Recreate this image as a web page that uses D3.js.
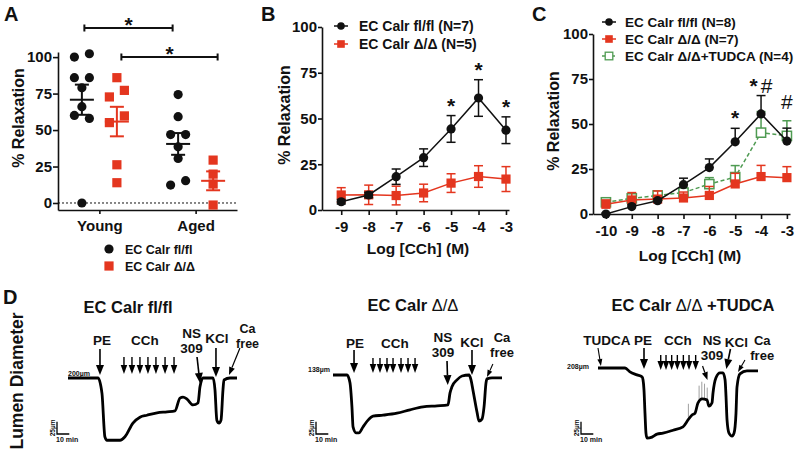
<!DOCTYPE html>
<html>
<head>
<meta charset="utf-8">
<script src="https://cdn.jsdelivr.net/npm/d3@7"></script>
<style>
  body { margin: 0; background: #fff; }
  text { font-family: "Liberation Sans", Arial, Helvetica, sans-serif; font-weight: bold; fill: #111; }
</style>
</head>
<body>
<svg id="fig" width="800" height="453"></svg>
<script>
// ---- panel A : single vessels, % relaxation ----
const groups = ["Young", "Aged"];
const aFlYoung = [102.3, 100, 85.9, 85.9, 79, 66, 60, 58, 0];
const aFlAged = [74.3, 59.2, 46.9, 46.9, 38.5, 30.5, 15.3, 12.3];
const aDdYoung = [85.9, 77.2, 72.7, 59.7, 55.1, 26.2, 13.9];
const aDdAged = [29.4, 19.8, 13, -1.4];
const pctTicks = [0, 25, 50, 75, 100];

// ---- panel B : dose response ----
const bDose = [-9, -8, -7, -6, -5, -4, -3];
const bFlMean = [4.5, 8.2, 18.2, 28.6, 44.3, 61.2, 43.6];
const bFlSem = [1.2, 1.5, 4.2, 4.8, 7.3, 10, 7.3];
const bDdMean = [8.2, 8.3, 7.9, 9.3, 14.7, 18.3, 16.9];
const bDdSem = [4, 5.3, 5.1, 4.8, 5.1, 5.9, 6.8];
const bSig = [-5, -4, -3];

// ---- panel C : dose response with TUDCA ----
const cDose = [-10, -9, -8, -7, -6, -5, -4, -3];
const cFlMean = [0, 4.1, 7.4, 16.3, 25.8, 40.1, 55.6, 40.5];
const cFlSem = [0.5, 1, 1, 3.6, 4.8, 7.5, 10.2, 7.2];
const cDdMean = [5.4, 7.8, 8.3, 8.9, 10.3, 16.7, 20.8, 20.2];
const cDdSem = [2.4, 4.1, 4.5, 3.3, 5, 5.9, 6.2, 6.1];
const cTuMean = [6.5, 8.7, 10.3, 11.9, 16.6, 20.5, 45.2, 43.4];
const cTuSem = [1.2, 2.2, 2.4, 2.2, 3.6, 6.4, 11.7, 8.4];
const cSig = [[-5, "*"], [-4, "*#"], [-3, "#"]];

// ---- panel D : diameter traces, [minutes, µm] ----
const traceFl = [[0,200],[24.4,200],[27.6,169],[30,80],[31.7,73],[42.3,73],[46.3,80],[52.8,108],[58.5,120],
  [64.2,124],[72.4,129],[80.5,131],[87,133],[91,159],[93.5,161],[96.7,157],[101.6,145],[105.7,149],[107.3,182],
  [109.8,200],[117.9,200],[119.5,176],[121,114],[122.8,108],[124.4,114],[126,176],[126.8,196],[131.7,200],[137.4,200]];
const traceDd = [[0,138],[11.4,138],[13.8,122],[15.4,73],[16.3,32],[18.7,20],[21.1,20],[24.4,32],[28.5,46],
  [32.5,54],[40.7,56],[52,60],[62.6,67],[73.2,73],[84.6,75],[93.5,77],[95.1,101],[96.7,114],[100.8,128],
  [104.9,136],[110.6,138],[112.2,128],[113.8,107],[117.1,62],[118.7,44],[121.1,48],[122.8,73],[124.4,122],
  [125.2,130],[129.3,132],[137.4,132]];
const traceTu = [[0,208],[22,208],[26,200],[31.7,194],[35.8,190],[36.6,184],[37.4,163],[38.2,116],[39,75],
  [39.8,65],[43.9,67],[48,73],[52.8,75],[61,81],[69.1,88],[73.2,102],[76.4,112],[78.9,116],[81.3,137],
  [84.6,145],[88.6,143],[90.2,130],[92.7,137],[93.5,157],[95.9,188],[99.2,198],[101.6,198],[103.3,184],
  [104.1,149],[104.9,102],[106.5,75],[109,69],[110.6,75],[112.2,116],[113,169],[115.4,196],[121.1,202],[130.1,202]];
const spikesTu = [[73.5,102,135],[82.2,140,172],[84.4,144,180],[86.6,143,176],[88.8,140,168]];
const cchFl = [45.5, 52, 58.5, 65, 71.5, 78.9, 86.2];
const cchDd = [32.5, 38.2, 43.9, 48.8, 55.3, 61, 66.7];
const cchTu = [51, 55.3, 59.9, 64.5, 69.4, 74, 79.4];

const RED = "#e4361f", GREEN = "#4f9b52", INK = "#111";
const svg = d3.select("#fig");

function styleAxis(g, fs) {
  g.attr("font-family", null).attr("font-size", fs);
  g.select(".domain").attr("stroke", INK).attr("stroke-width", 1.6);
  g.selectAll(".tick line").attr("stroke", INK).attr("stroke-width", 1.6);
  g.selectAll(".tick text").attr("fill", INK);
}
function label(x, y, txt, size, anchor, rot) {
  const t = svg.append("text").attr("x", x).attr("y", y).attr("font-size", size)
    .attr("text-anchor", anchor || "middle").text(txt);
  if (rot) t.attr("transform", `rotate(${rot},${x},${y})`);
  return t;
}
function marker(g, shape, x, y, color, open) {
  if (shape === "circle") {
    g.append("circle").attr("cx", x).attr("cy", y).attr("r", 4.6).attr("fill", color);
  } else {
    g.append("rect").attr("x", x - 4.6).attr("y", y - 4.6).attr("width", 9.2).attr("height", 9.2)
      .attr("fill", open ? "#fff" : color).attr("stroke", open ? color : "none").attr("stroke-width", 1.5);
  }
}

// ================= A =================
label(4, 21, "A", 20, "start");
const yA = d3.scaleLinear().domain([-4.8, 103.5]).range([210, 52]);
const xA = d3.scalePoint().domain(groups).range([58, 237]).padding(0.43);
svg.append("g").attr("transform", "translate(58,0)")
  .call(d3.axisLeft(yA).tickValues(pctTicks).tickSize(5).tickSizeOuter(0).tickPadding(1))
  .call(g => styleAxis(g, 15));
svg.append("g").attr("transform", "translate(0,210)")
  .call(d3.axisBottom(xA).tickSize(4).tickSizeOuter(0).tickPadding(6))
  .call(g => styleAxis(g, 15));
svg.append("line").attr("x1", 58).attr("x2", 237).attr("y1", yA(0)).attr("y2", yA(0))
  .attr("stroke", INK).attr("stroke-width", 1).attr("stroke-dasharray", "2,2");
label(18, 118, "% Relaxation", 16, "middle", -90).attr("dy", "0.35em");

function swarm(vals) {
  // group neighbours that would overlap and spread them sideways
  const s = vals.map((v, i) => ({ v, i })).sort((a, b) => b.v - a.v);
  const out = [];
  let cl = [];
  const flush = () => {
    const offs = cl.length === 1 ? [0] : cl.length === 2 ? [7.5, -7.5] : [0, -7.5, 7.5];
    cl.forEach((p, k) => out.push({ v: p.v, dx: offs[k % offs.length] }));
    cl = [];
  };
  s.forEach(p => {
    if (cl.length && Math.abs(yA(p.v) - yA(cl[cl.length - 1].v)) >= 9.5) flush();
    cl.push(p);
  });
  flush();
  return out;
}
const aSets = [
  { g: "Young", vals: aFlYoung, off: -17.5, c: INK, shape: "circle" },
  { g: "Young", vals: aDdYoung, off: 17.5, c: RED, shape: "square" },
  { g: "Aged", vals: aFlAged, off: -17.5, c: INK, shape: "circle" },
  { g: "Aged", vals: aDdAged, off: 17.5, c: RED, shape: "square" }
];
const gA = svg.append("g");
aSets.forEach(s => {
  const cx = xA(s.g) + s.off;
  swarm(s.vals).forEach(p => marker(gA, s.shape, cx + p.dx, yA(p.v), s.c));
  const m = d3.mean(s.vals), se = d3.deviation(s.vals) / Math.sqrt(s.vals.length);
  gA.append("line").attr("x1", cx - 12).attr("x2", cx + 12).attr("y1", yA(m)).attr("y2", yA(m)).attr("stroke", s.c).attr("stroke-width", 2);
  gA.append("line").attr("x1", cx).attr("x2", cx).attr("y1", yA(m - se)).attr("y2", yA(m + se)).attr("stroke", s.c).attr("stroke-width", 2);
  [m - se, m + se].forEach(v => gA.append("line").attr("x1", cx - 7).attr("x2", cx + 7)
    .attr("y1", yA(v)).attr("y2", yA(v)).attr("stroke", s.c).attr("stroke-width", 2));
});
// significance brackets
function bracket(x1, x2, y) {
  svg.append("path").attr("d", `M${x1},${y - 3.5}V${y + 3.5}M${x1},${y}H${x2}M${x2},${y - 3.5}V${y + 3.5}`)
    .attr("stroke", INK).attr("stroke-width", 2).attr("fill", "none");
  label((x1 + x2) / 2, y - 7 + 11, "*", 21);
}
bracket(xA("Young") - 15, xA("Aged") - 23, 28);
bracket(xA("Young") + 22, xA("Aged") + 22, 57);
// legend A
marker(svg, "circle", 109, 249, INK);
label(125, 253.5, "EC Calr fl/fl", 12.5, "start");
marker(svg, "square", 109, 266, RED);
label(125, 270.5, "EC Calr Δ/Δ", 12.5, "start");

// ============== dose response helper ==============
function series(g, x, y, dose, mean, sem, color, shape, opts) {
  opts = opts || {};
  const gs = g.append("g");
  dose.forEach((d, i) => {
    const top = y(mean[i] + sem[i]), bot = opts.upperOnly ? y(mean[i]) : y(mean[i] - sem[i]);
    gs.append("line").attr("x1", x(d)).attr("x2", x(d)).attr("y1", top).attr("y2", bot).attr("stroke", color).attr("stroke-width", 1.5);
    gs.append("line").attr("x1", x(d) - 4.5).attr("x2", x(d) + 4.5).attr("y1", top).attr("y2", top).attr("stroke", color).attr("stroke-width", 1.5);
    if (!opts.upperOnly) gs.append("line").attr("x1", x(d) - 4.5).attr("x2", x(d) + 4.5).attr("y1", bot).attr("y2", bot).attr("stroke", color).attr("stroke-width", 1.5);
  });
  gs.append("path").datum(dose.map((d, i) => [d, mean[i]]))
    .attr("d", d3.line().x(p => x(p[0])).y(p => y(p[1])))
    .attr("fill", "none").attr("stroke", color).attr("stroke-width", 1.5)
    .attr("stroke-dasharray", opts.dash || null);
  dose.forEach((d, i) => marker(gs, shape, x(d), y(mean[i]), color, opts.open));
}
function legendRow(x, y, color, shape, txt, opts) {
  opts = opts || {};
  svg.append("line").attr("x1", x - 7).attr("x2", x + 7).attr("y1", y).attr("y2", y).attr("stroke", color)
    .attr("stroke-width", 1.5).attr("stroke-dasharray", opts.dash || null);
  const g = svg.append("g");
  if (shape === "circle") g.append("circle").attr("cx", x).attr("cy", y).attr("r", 3.8).attr("fill", color);
  else g.append("rect").attr("x", x - 3.8).attr("y", y - 3.8).attr("width", 7.6).attr("height", 7.6)
    .attr("fill", opts.open ? "#fff" : color).attr("stroke", opts.open ? color : "none").attr("stroke-width", 1.3);
  label(x + (opts.gap || 18), y + 5, txt, opts.fs || 14, "start");
}

// ================= B =================
label(261, 21, "B", 20, "start");
const yB = d3.scaleLinear().domain([0, 100]).range([210, 27]);
const xB = d3.scaleLinear().domain([-9.7, -2.89]).range([322, 509]);
svg.append("g").attr("transform", "translate(322,0)")
  .call(d3.axisLeft(yB).tickValues(pctTicks).tickSize(4).tickSizeOuter(0).tickPadding(1))
  .call(g => styleAxis(g, 15));
svg.append("g").attr("transform", "translate(0,210)")
  .call(d3.axisBottom(xB).tickValues(bDose).tickFormat(d => String(d)).tickSize(5).tickSizeOuter(0).tickPadding(6))
  .call(g => styleAxis(g, 15));
label(284, 115, "% Relaxation", 16, "middle", -90).attr("dy", "0.35em");
label(418, 254, "Log [CCh] (M)", 15.5);
const gB = svg.append("g");
series(gB, xB, yB, bDose, bDdMean, bDdSem, RED, "square");
series(gB, xB, yB, bDose, bFlMean, bFlSem, INK, "circle");
bSig.forEach(d => {
  const i = bDose.indexOf(d);
  label(xB(d), yB(bFlMean[i] + bFlSem[i]) - 14 + 11, "*", 21);
});
legendRow(341, 26, INK, "circle", "EC Calr fl/fl (N=7)");
legendRow(341, 44, RED, "square", "EC Calr Δ/Δ (N=5)");

// ================= C =================
label(532, 21, "C", 20, "start");
const yC = d3.scaleLinear().domain([0, 100]).range([214, 34]);
const xC = d3.scaleLinear().domain([-10.5, -2.88]).range([593, 790]);
svg.append("g").attr("transform", "translate(593,0)")
  .call(d3.axisLeft(yC).tickValues(pctTicks).tickSize(4).tickSizeOuter(0).tickPadding(1))
  .call(g => styleAxis(g, 15));
svg.append("g").attr("transform", "translate(0,214)")
  .call(d3.axisBottom(xC).tickValues(cDose).tickFormat(d => String(d)).tickSize(5).tickSizeOuter(0).tickPadding(6))
  .call(g => styleAxis(g, 15));
label(553, 121, "% Relaxation", 16, "middle", -90).attr("dy", "0.35em");
label(690, 261, "Log [CCh] (M)", 15.5);
const gC = svg.append("g");
series(gC, xC, yC, cDose, cTuMean, cTuSem, GREEN, "square", { upperOnly: true, open: true, dash: "4,2.5" });
series(gC, xC, yC, cDose, cDdMean, cDdSem, RED, "square", { upperOnly: true });
series(gC, xC, yC, cDose, cFlMean, cFlSem, INK, "circle", { upperOnly: true });
cSig.forEach(([d, s]) => {
  const i = cDose.indexOf(d);
  const yTop = yC(d3.max([cFlMean[i] + cFlSem[i], cTuMean[i] + cTuSem[i]]));
  const t = svg.append("text").attr("x", xC(d)).attr("y", yTop - 12).attr("text-anchor", "middle").attr("font-size", 21);
  [...s].forEach(ch => t.append("tspan").attr("font-weight", ch === "#" ? "normal" : "bold")
    .attr("dy", ch === "*" ? 9 : 0).attr("dx", ch === "#" && s.length > 1 ? 3 : 0).text(ch));
});
legendRow(609, 22, INK, "circle", "EC Calr fl/fl (N=8)", { gap: 16, fs: 13.5 });
legendRow(609, 39, RED, "square", "EC Calr Δ/Δ (N=7)", { gap: 16, fs: 13.5 });
legendRow(609, 56, GREEN, "square", "EC Calr Δ/Δ+TUDCA (N=4)", { open: true, dash: "3,2", gap: 16, fs: 13.5 });

// ================= D =================
label(3, 304, "D", 20, "start");
label(17, 381, "Lumen Diameter", 17.5, "middle", -90).attr("dy", "0.35em");

function arrow(x1, y1, x2, y2, hw, hl, sw) {
  const a = Math.atan2(y2 - y1, x2 - x1);
  const bx = x2 - hl * Math.cos(a), by = y2 - hl * Math.sin(a);
  svg.append("line").attr("x1", x1).attr("y1", y1).attr("x2", bx).attr("y2", by).attr("stroke", "#000").attr("stroke-width", sw);
  const px = -Math.sin(a) * hw / 2, py = Math.cos(a) * hw / 2;
  svg.append("path").attr("d", `M${x2},${y2}L${bx + px},${by + py}L${bx - px},${by - py}Z`).attr("fill", "#000");
}
function title(cx, y, parts) {
  const t = svg.append("text").attr("x", cx).attr("y", y).attr("text-anchor", "middle").attr("font-size", 16.5);
  parts.forEach(([s, w]) => t.append("tspan").attr("font-weight", w).text(s));
}
function drawTrace(c) {
  const x = d3.scaleLinear().domain([0, 100]).range([c.x0, c.x0 + 123]);
  const y = d3.scaleLinear().domain([c.base, c.base - 100]).range([c.y0, c.y0 + 49]);
  if (c.spikes) c.spikes.forEach(s => svg.append("line").attr("x1", x(s[0])).attr("x2", x(s[0]))
    .attr("y1", y(s[1])).attr("y2", y(s[2])).attr("stroke", "#888").attr("stroke-width", 0.8));
  svg.append("path").datum(c.data)
    .attr("d", d3.line().x(p => x(p[0])).y(p => y(p[1])).curve(d3.curveMonotoneX))
    .attr("fill", "none").attr("stroke", "#000").attr("stroke-width", 2.8).attr("stroke-linejoin", "round");
  // baseline diameter label
  svg.append("text").attr("x", c.baseLab[0]).attr("y", c.baseLab[1]).attr("font-size", 7)
    .attr("font-weight", "normal").attr("text-anchor", c.baseLab[2]).text(c.base + "µm");
  // scale bar 10 min / 25 µm
  const bx = c.bar[0], by = c.bar[1];
  const w10 = x(10) - x(0), h25 = y(c.base - 25) - y(c.base);
  svg.append("path").attr("d", `M${bx},${by - h25}V${by}H${bx + w10}`).attr("fill", "none").attr("stroke", "#000").attr("stroke-width", 1.3);
  svg.append("text").attr("x", bx - 4).attr("y", by - h25 / 2).attr("font-size", 6.5).attr("font-weight", "normal")
    .attr("text-anchor", "middle").attr("transform", `rotate(-90,${bx - 4},${by - h25 / 2})`).attr("dy", "0.35em").text("25µm");
  svg.append("text").attr("x", bx - 1).attr("y", by + 8).attr("font-size", 7).text("10 min");
  // treatment arrows and labels
  c.notes.forEach(n => {
    n.lines.forEach((s, k) => label(x(n.lt), n.ly + k * 15, s, n.fs || 13.5));
    arrow(x(n.t1), n.y1, x(n.t2), n.y2, n.hw || 8, n.hl || 10, n.sw || 1.6);
  });
  label(x(c.cchLab), c.cchY, "CCh", 13.5);
  c.cch.forEach(t => arrow(x(t), c.cchArr[0], x(t), c.cchArr[1], 6.5, 9, 1.4));
  return { x, y };
}

title(128, 313, [["EC Calr fl/fl", "bold"]]);
drawTrace({
  data: traceFl, base: 200, x0: 68, y0: 378, baseLab: [68, 376, "start"], bar: [57, 434],
  cch: cchFl, cchLab: 62.6, cchY: 345, cchArr: [357, 374],
  notes: [
    { lines: ["PE"], lt: 27.6, ly: 345, t1: 26, y1: 349, t2: 26, y2: 375 },
    { lines: ["NS", "309"], lt: 100.5, ly: 338, t1: 104.9, y1: 357, t2: 107.3, y2: 383 },
    { lines: ["KCl"], lt: 121, ly: 343, t1: 120.3, y1: 348, t2: 120.3, y2: 377 },
    { lines: ["Ca", "free"], lt: 146, ly: 333, fs: 12.5, t1: 139.8, y1: 348, t2: 130.9, y2: 375, hw: 6, hl: 8, sw: 1.2 }
  ]
});

title(413, 311, [["EC Calr ", "bold"], ["Δ/Δ", "normal"]]);
drawTrace({
  data: traceDd, base: 138, x0: 333, y0: 375, baseLab: [330, 372, "end"], bar: [316, 434],
  cch: cchDd, cchLab: 50.4, cchY: 348, cchArr: [358, 373],
  notes: [
    { lines: ["PE"], lt: 17.9, ly: 348, t1: 17.1, y1: 350, t2: 17.1, y2: 373 },
    { lines: ["NS", "309"], lt: 89.4, ly: 342, t1: 92.7, y1: 361, t2: 93.3, y2: 385 },
    { lines: ["KCl"], lt: 113, ly: 347, t1: 113, y1: 350, t2: 113, y2: 375 },
    { lines: ["Ca", "free"], lt: 137.4, ly: 342, fs: 13, t1: 130, y1: 364, t2: 125.2, y2: 377, hw: 5, hl: 7, sw: 1.1 }
  ]
});

title(693, 311, [["EC Calr ", "bold"], ["Δ/Δ", "normal"], [" +TUDCA", "bold"]]);
drawTrace({
  data: traceTu, base: 208, x0: 598, y0: 368, baseLab: [589, 369, "end"], bar: [581, 434], spikes: spikesTu,
  cch: cchTu, cchLab: 65, cchY: 345, cchArr: [355, 370],
  notes: [
    { lines: ["TUDCA"], lt: 7.3, ly: 345, t1: 0, y1: 348, t2: 2.4, y2: 366, hw: 5, hl: 7, sw: 1.1 },
    { lines: ["PE"], lt: 36.6, ly: 345, t1: 37.4, y1: 348, t2: 37.4, y2: 369 },
    { lines: ["NS", "309"], lt: 92.7, ly: 345, t1: 85, y1: 366, t2: 89, y2: 380, hw: 6, hl: 8, sw: 1.2 },
    { lines: ["KCl"], lt: 112.5, ly: 347, t1: 107.7, y1: 349, t2: 104.3, y2: 369 },
    { lines: ["Ca", "free"], lt: 133.5, ly: 345, fs: 13, t1: 119.5, y1: 360, t2: 113.8, y2: 372, hw: 5, hl: 7, sw: 1.1 }
  ]
});
</script>
</body>
</html>
